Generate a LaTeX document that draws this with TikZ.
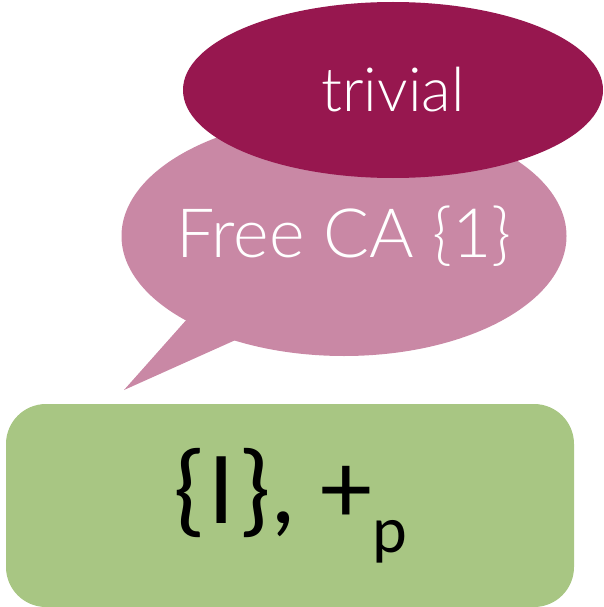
\documentclass[tikz,border=0pt]{standalone}
\usepackage{fontspec}
\setmainfont{Liberation Sans}
\newfontfamily\thinfont{Lato Light}
\newfontfamily\boxfont{Carlito}
\usetikzlibrary{shapes.geometric}
\definecolor{darkberry}{HTML}{97174F}
\definecolor{pinkberry}{HTML}{C988A5}
\definecolor{boxgreen}{HTML}{A8C683}
\tikzset{
  bubble/.style={ellipse, inner sep=0pt},
  bubbletext/.style={text=white, inner sep=0pt},
  greenbox/.style={rectangle, rounded corners=40pt, fill=boxgreen, inner sep=0pt}
}
\begin{document}
\begin{tikzpicture}[x=1pt,y=-1pt]
\useasboundingbox (0,0) rectangle (603,607);
% tail of the pink bubble
\coordinate (tailA) at (188,318);
\coordinate (tip) at (124,390);
\coordinate (tailB) at (240,338);
\fill[pinkberry] (tailA) -- (tip) -- (tailB) -- cycle;
% pink bubble
\node[bubble, fill=pinkberry, minimum width=445pt, minimum height=240pt] (free) at (344,236) {};
\node[bubbletext, font=\thinfont\fontsize{68}{68}\selectfont] (freetext) at (free.center) {Free CA \{1\}};
% dark bubble
\node[bubble, fill=darkberry, minimum width=420pt, minimum height=176pt] (triv) at (393,90) {};
\node[bubbletext, font=\thinfont\fontsize{61}{61}\selectfont] (trivtext) at (triv.center) {trivial};
% green box
\node[greenbox, minimum width=568pt, minimum height=203pt,
      font=\boxfont\fontsize{104}{104}\selectfont] (box) at (290,505.5)
      {\{\kern3ptI\kern3pt\}, +\raisebox{-0.28em}{\fontsize{66}{66}\selectfont p}};
\end{tikzpicture}
\end{document}
